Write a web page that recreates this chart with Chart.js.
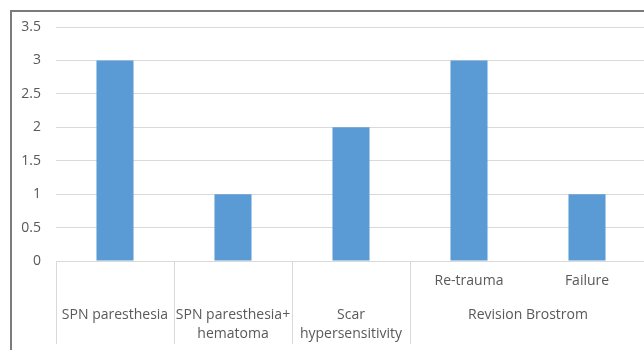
<!DOCTYPE html>
<html>
<head>
<meta charset="utf-8">
<script src="https://cdn.jsdelivr.net/npm/chart.js@4"></script>
<style>
  html, body { margin: 0; padding: 0; background: #fff; overflow: hidden; }
  body { width: 644px; height: 350px; position: relative; }
  #frame {
    position: absolute; left: 10px; top: 10px; width: 700px; height: 400px;
    border-left: 2px solid #7b7b7b; border-top: 2px solid #7b7b7b;
  }
  #wrap { position: absolute; left: 0; top: 0; width: 646px; height: 350px; }
</style>
</head>
<body>
<div id="frame"></div>
<div id="wrap"><canvas id="c"></canvas></div>
<script>
// Complication counts by category
const subLabels = ['', '', '', 'Re-trauma', 'Failure'];
const groupLabels = [['SPN paresthesia'], ['SPN paresthesia+', 'hematoma'], ['Scar', 'hypersensitivity'], ['Revision Brostrom']];
const groupSpans = [1, 1, 1, 2];
const counts = [3, 1, 2, 3, 1];
const yTicks = [0, 0.5, 1, 1.5, 2, 2.5, 3, 3.5];

// flat labels for the category scale
const flatLabels = [];
groupLabels.forEach((g, gi) => {
  for (let k = 0; k < groupSpans[gi]; k++) {
    const i = flatLabels.length;
    flatLabels.push(subLabels[i] ? g.join(' ') + ' - ' + subLabels[i] : g.join(' '));
  }
});

const FAMILY = '"Open Sans", "Noto Sans", sans-serif';
const FONT = '14px ' + FAMILY;
const TEXT = '#595959';
const LINE = '#d9d9d9';

// draws the two-level category axis under the plot
const groupedAxis = {
  id: 'groupedAxis',
  afterDraw(chart) {
    const ctx = chart.ctx;
    const x = chart.scales.x;
    const area = chart.chartArea;
    const n = flatLabels.length;
    const w = (area.right - area.left) / n;
    ctx.save();
    ctx.font = FONT;
    ctx.fillStyle = TEXT;
    ctx.textAlign = 'center';
    ctx.textBaseline = 'middle';
    // inner level
    subLabels.forEach((s, i) => {
      if (s) ctx.fillText(s, x.getPixelForValue(i), area.bottom + 20);
    });
    // outer level + dividers
    ctx.strokeStyle = LINE;
    ctx.lineWidth = 1;
    let start = 0;
    groupLabels.forEach((g, gi) => {
      const left = x.getPixelForValue(start) - w / 2;
      const right = x.getPixelForValue(start + groupSpans[gi] - 1) + w / 2;
      const cx = (left + right) / 2;
      g.forEach((line, li) => ctx.fillText(line, cx, area.bottom + 54 + li * 19));
      ctx.beginPath();
      ctx.moveTo(Math.round(left) + 0.5, area.bottom);
      ctx.lineTo(Math.round(left) + 0.5, area.bottom + 83);
      ctx.stroke();
      if (gi === groupLabels.length - 1) {
        ctx.beginPath();
        ctx.moveTo(Math.round(right) - 0.5, area.bottom);
        ctx.lineTo(Math.round(right) - 0.5, area.bottom + 83);
        ctx.stroke();
      }
      start += groupSpans[gi];
    });
    ctx.restore();
  }
};

new Chart(document.getElementById('c'), {
  type: 'bar',
  data: {
    labels: flatLabels,
    datasets: [{
      data: counts,
      backgroundColor: '#5b9bd5',
      borderWidth: 0,
      categoryPercentage: 1,
      barPercentage: 0.314
    }]
  },
  options: {
    responsive: true,
    maintainAspectRatio: false,
    animation: false,
    events: [],
    layout: { padding: { top: 27, left: 0, right: 0, bottom: 0 } },
    plugins: { legend: { display: false }, tooltip: { enabled: false } },
    scales: {
      x: {
        grid: { display: false },
        border: { display: false },
        ticks: { display: false },
        afterFit(s) { s.height = 89; }
      },
      y: {
        min: 0,
        max: 3.5,
        afterBuildTicks(s) { s.ticks = yTicks.map(v => ({ value: v })); },
        grid: { color: LINE, lineWidth: 1, drawTicks: false },
        border: { display: false },
        ticks: {
          color: TEXT,
          font: { family: FAMILY, size: 14 },
          padding: 15,
          callback: v => String(v)
        },
        afterFit(s) { s.width = 56; }
      }
    }
  },
  plugins: [groupedAxis]
});
</script>
</body>
</html>
